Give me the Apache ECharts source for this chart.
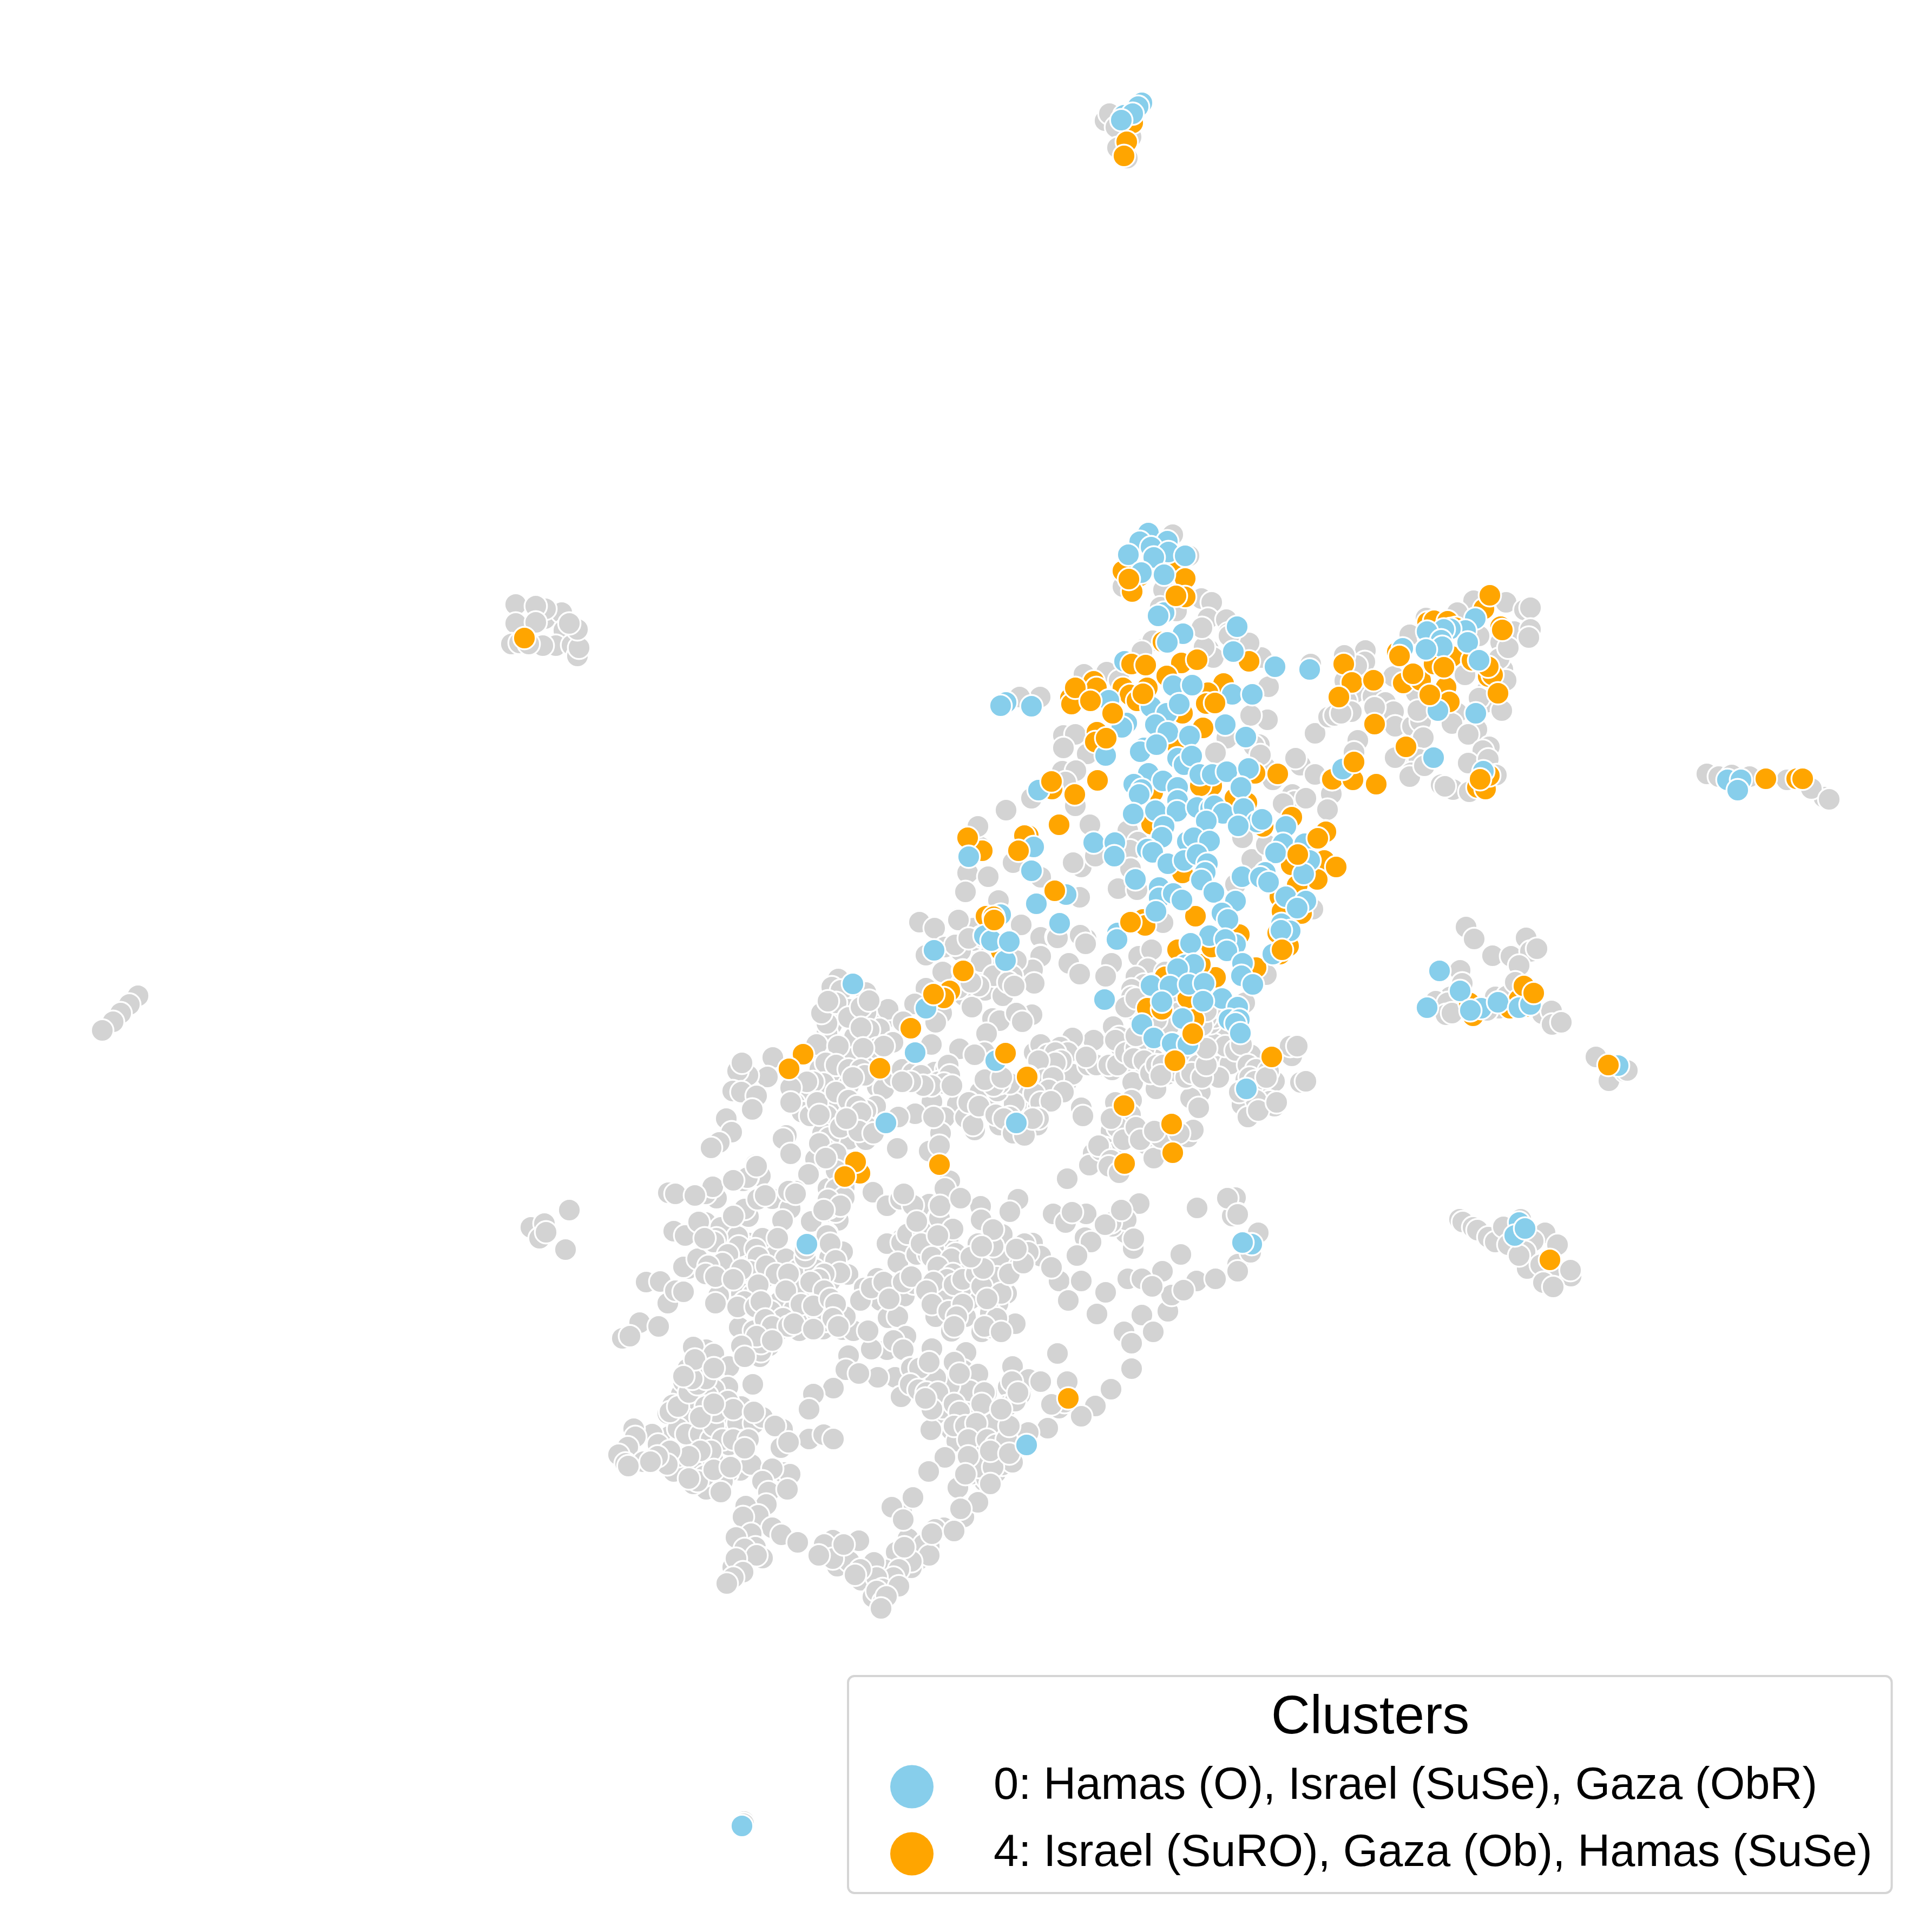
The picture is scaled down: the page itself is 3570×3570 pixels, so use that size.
<!DOCTYPE html>
<html><head><meta charset="utf-8">
<style>html,body{margin:0;padding:0;background:#fff}#c{width:3570px;height:3570px}</style>
<script src="https://cdn.jsdelivr.net/npm/echarts@6/dist/echarts.min.js"></script>
</head><body><div id="c"></div>
<script>
const legendTitle = "Clusters";
const label0 = "0: Hamas (O), Israel (SuSe), Gaza (ObR)";
const label4 = "4: Israel (SuRO), Gaza (Ob), Hamas (SuSe)";

const otherPts = [
[2055,213],[2042,223],[2050,210],[2062,235],[2090,253],[2065,273],[2083,292],
[953,1117],[1007,1143],[1038,1132],[1008,1125],[990,1120],[953,1152],[990,1150],[1042,1165],[1027,1193],[1057,1192],[1067,1212],[1070,1197],[1067,1163],[945,1190],[960,1188],[1003,1193],[977,1190],[1052,1152],
[255,1840],[239,1856],[223,1872],[209,1888],[189,1904],
[981,2268],[1006,2261],[1052,2236],[1045,2309],[997,2288],[1009,2277],[1375,3366],[1374,3370],
[3154,1430],[3176,1435],[3370,1473],[3347,1457],[3302,1441],[3233,1435],[3380,1477],[3200,1432],
[2709,1713],[2724,1735],[2758,1766],[2792,1767],[2820,1733],[2828,1758],[2840,1753],[2807,1784],[2698,1793],[2702,1817],[2680,1842],[2653,1850],[2675,1853],[2672,1875],[2683,1872],[2763,1842],[2785,1840],[2850,1873],[2867,1868],[2868,1893],[2885,1889],[2949,1953],[2973,1997],[3003,1980],[3007,1978],[2770,1863],[2800,1815],[2748,1867],
[2697,2253],[2703,2258],[2722,2268],[2730,2273],[2750,2286],[2763,2295],[2778,2267],[2810,2253],[2855,2278],[2833,2293],[2818,2313],[2878,2300],[2787,2300],[2822,2344],[2847,2337],[2877,2355],[2903,2358],[2902,2347],[2852,2370],[2870,2378],[2807,2320],
[2783,1113],[2723,1110],[2817,1127],[2828,1123],[2798,1167],[2828,1163],[2825,1178],[2773,1187],[2693,1132],[2635,1142],[2605,1173],[2733,1175],[2777,1237],[2770,1217],[2787,1197],[2783,1257],[2707,1247],[2747,1277],[2745,1298],[2775,1313],[2733,1290],[2692,1317],[2683,1337],[2729,1348],[2713,1357],[2752,1380],[2740,1387],[2713,1410],[2750,1403],[2765,1432],[2685,1459],[2663,1450],[2670,1453],[2715,1463],[2523,1202],[2483,1210],[2522,1223],[2507,1230],[2575,1250],[2485,1258],[2503,1280],[2537,1287],[2488,1295],[2497,1315],[2473,1317],[2560,1298],[2575,1315],[2540,1307],[2455,1327],[2578,1342],[2610,1342],[2625,1333],[2623,1373],[2630,1363],[2509,1368],[2502,1390],[2592,1400],[2578,1400],[2622,1403],[2608,1428],[2605,1435],[2632,1415],[2455,1497],[2460,1467],[2617,1280],[2620,1313],
[2073,1058],[2075,1084],[2197,1027],[2167,988],[2150,1090],[2220,1106],[2239,1113],[2144,1122],[2232,1143],[2266,1145],[2174,1129],[2308,1186],[2224,1196],[2270,1170],[2132,1183],[2113,1199],[1922,1288],[1884,1288],
[1965,1359],[1987,1357],[1965,1382],[2009,1393],[1963,1425],[1988,1424],[1969,1445],[1987,1489],[2014,1524],[1906,1475],[1859,1497],[1922,1460],[1984,1594],[1998,1602],[2024,1582],[1992,1659],[2066,1642],[2101,1644],[2084,1535],[2103,1556],[2088,1571],[2089,1605],[2296,1548],[2313,1588],[2340,1561],[2338,1418],[2403,1414],[2394,1401],[2430,1431],[2430,1355],[2455,1325],[2388,1468],[2392,1481],[2413,1475],[2371,1485],[2453,1496],[2352,1441],[2342,1330],[2311,1322],[2327,1376],[2317,1378],[2329,1395],[2267,1364],[2246,1391],[2331,1215],[2344,1269],[2308,1188],[2233,1200],[2242,1215],[2225,1196],[2221,1160],[2271,1175],[2130,1184],[2110,1204],[2045,1242],[2068,1257],[2003,1246],[2422,1227],[2466,1322],[2478,1318],[2484,1211],[2283,1634],[2426,1680],[2149,1705],[2007,1735],[1996,1728],[1923,1732],[1952,1732],[1923,1621],
[1788,1613],[1826,1620],[1784,1648],[1811,1565],[1807,1527],[1872,1594],[1983,1594],[1995,1658],[1845,1664],[1770,1697],[1727,1715],[1799,1715],[1887,1709],[1819,1757],[1922,1766],[1903,1805],[1975,1779],[1995,1798],[2006,1744],[1952,1731],[1887,1887],[1907,1875],[1845,1884],[1853,1840],[1807,1836],[1780,1840],[1742,1795],
[1923,1767],[1954,1733],[2006,1744],[1975,1780],[1995,1800],[1908,1792],[1911,1817],[2054,1780],[2043,1804],[2104,1767],[2128,1755],[2121,1790],[2099,1805],[2114,1819],[2091,1828],[2110,1855],[2093,1865],[2057,1897],[2068,1916],[2070,1933],[2086,1947],[2021,1922],[1982,1918],[1959,1935],[1973,1945],[1936,1972],[1911,1945],[2021,1964],[2038,1970],[2055,1977],[1971,1999],[1982,1985],[1957,2021],[1931,2016],[1998,2047],[2001,2062],[1904,2050],[1919,2046],[1904,2081],[1917,2079],[2092,1984],[2093,2000],[2136,2012],[2125,1935],[2157,1985],[2171,1979],[2218,2018],[2200,2029],[2215,2047],[2191,1991],[2233,1987],[2246,1967],[2273,1966],[2252,1991],[2311,1949],[2279,1914],[2256,1905],[2225,1914],[2300,1853],[2340,1801],[2218,1941],[2133,1958],[2114,1937],[2387,1951],[2384,1933],[2397,1933],[2403,2000],[2413,1998],[2355,1998],[2332,1998],[2302,1995],[2346,2035],[2355,2044],[2295,2041],[2306,2064],[2332,1979],[2061,2037],[2091,2033],[2088,2079],[2068,2091],[2053,2090],[2089,2060],[2118,2114],[2139,2109],[2126,2094],[2195,2101],[2205,2088],[2132,2140],[2088,2102],[2020,2131],[2013,2153],[2042,2121],[2057,2132],[2064,2161],[1972,2178],[2105,2224],[2083,2252],[2054,2266],[1982,2240],[1955,2248],[2007,2243],[1946,2243],[1969,2259],[2015,2289],[2005,2287],[2080,2278],[1908,2297],[2213,2233],[2267,2214],[2283,2213],[2287,2243],[2277,2247],[2327,2278],
[1699,1704],[1727,1715],[1771,1700],[1746,1750],[1711,1765],[1742,1796],[1788,1757],[1820,1759],[1798,1738],[1840,1777],[1878,1775],[1813,1801],[1851,1798],[1711,1826],[1782,1840],[1820,1830],[1853,1840],[1796,1861],[1690,1855],[1740,1872],[1729,1889],[1834,1882],[1847,1886],[1886,1884],[1823,1910],[1773,1938],[1819,1945],[1801,1949],[1721,1930],[1639,1880],[1641,1865],[1625,1901],[1669,1888],[1650,1926],[1579,1916],[1535,1937],[1572,1956],[1604,1955],[1515,1976],[1428,1954],[1418,1990],[1382,1987],[1363,1979],[1371,1964],[1354,2016],[1370,2018],[1398,2025],[1390,2050],[1484,2014],[1468,2039],[1482,2055],[1497,2062],[1544,2005],[1568,2006],[1556,2021],[1533,2039],[1528,2062],[1621,2008],[1633,2012],[1652,1989],[1667,1976],[1687,1983],[1727,1981],[1748,1976],[1702,1987],[1734,1999],[1722,2036],[1769,2041],[1745,2065],[1784,2065],[1801,2088],[1691,2058],[1660,2064],[1738,2094],[1717,2127],[1736,2117],[1618,2044],[1600,2052],[1572,2079],[1602,2083],[1569,2105],[1600,2106],[1520,2094],[1532,2102],[1533,2129],[1524,2123],[1507,2142],[1494,2170],[1530,2196],[1658,2122],[1613,2202],[1639,2228],[1664,2217],[1671,2207],[1687,2226],[1717,2225],[1737,2227],[1734,2251],[1757,2270],[1775,2214],[1755,2182],[1746,2196],[1813,2230],[1813,2255],[1864,2240],[1880,2219],[1851,2278],[1832,2289],[1667,2289],[1639,2297],[1698,2282],[1721,2278],[1752,2289],[1887,2012],[1874,2039],[1847,2079],[1822,2035],[1811,2018],[1843,2016],[1544,2239],[1549,2255],[1501,2259],[1528,2280],[1453,2098],[1447,2104],[1461,2132],[1342,2067],[1352,2092],[1329,2111],[1314,2121],[1396,2152],[1405,2173],[1382,2175],[1373,2182],[1317,2197],[1325,2213],[1427,2215],[1470,2201],[1461,2232],[1445,2255],[1375,2236],[1383,2248],[1333,2269],[1363,2278],[1409,2286],[1336,2297],[1384,2297],[1304,2259],[1549,1809],[1537,1824],[1600,1834],[1554,1830],[1537,1862],[1528,1874],[1537,1893],[1528,1910],[1600,1871],[1568,1865],
[1235,2204],[1248,2206],[1245,2275],[1266,2283],[1291,2258],[1324,2214],[1304,2206],[1317,2193],[1284,2209],[1194,2369],[1220,2368],[1234,2408],[1248,2385],[1263,2387],[1272,2344],[1263,2341],[1289,2326],[1182,2444],[1217,2451],[1150,2473],[1164,2469],[1327,2345],[1345,2369],[1328,2394],[1322,2408],[1370,2327],[1337,2303],[1386,2306],[1332,2268],[1363,2285],[1409,2288],[1383,2248],[1376,2234],[1427,2215],[1460,2233],[1446,2255],[1381,2176],[1398,2155],[1400,2216],[1370,2390],[1391,2392],[1414,2360],[1432,2321],[1452,2326],[1475,2346],[1475,2380],[1488,2394],[1441,2405],[1424,2423],[1467,2420],[1495,2446],[1509,2423],[1366,2453],[1393,2459],[1411,2469],[1439,2458],[1477,2459],[1521,2456],[1526,2441],[1557,2457],[1577,2459],[1562,2433],[1383,2502],[1404,2507],[1421,2487],[1391,2558],[1499,2257],[1528,2283],[1544,2239],[1531,2232],[1557,2313],[1533,2324],[1539,2350],[1567,2355],[1518,2369],[1506,2346],[1534,2367],[1493,2394],[1512,2405],[1470,2380],[1613,2203],[1639,2228],[1664,2216],[1687,2227],[1670,2206],[1639,2298],[1666,2296],[1659,2333],[1697,2283],[1677,2280],[1707,2278],[1694,2257],[1725,2308],[1736,2251],[1737,2228],[1761,2271],[1812,2257],[1812,2229],[1775,2214],[1850,2280],[1865,2239],[1881,2216],[1766,2316],[1807,2298],[1870,2322],[1898,2321],[1893,2298],[1845,2323],[1824,2326],[1621,2362],[1597,2380],[1657,2385],[1627,2403],[1590,2403],[1671,2395],[1689,2372],[1711,2386],[1641,2435],[1659,2433],[1747,2343],[1788,2340],[1778,2379],[1748,2398],[1730,2395],[1730,2434],[1758,2459],[1784,2433],[1794,2400],[1814,2362],[1844,2408],[1860,2390],[1833,2452],[1814,2461],[1876,2445],[1845,2357],[1860,2357],[1743,2420],[1721,2492],[1784,2498],[1870,2525],[1804,2540],[1776,2528],[1730,2545],[1754,2558],[1791,2572],[1824,2573],[1863,2563],[1886,2548],[1888,2576],[1860,2598],[1835,2604],[1846,2633],[1791,2604],[1741,2602],[1711,2586],[1733,2632],[1758,2642],[1720,2642],[1768,2663],[1796,2653],[1802,2691],[1745,2693],[1715,2719],[1850,2665],[1853,2704],[1872,2700],[1840,2721],[1819,2737],[1794,2724],[1768,2751],[1806,2775],[1776,2788],[1781,2803],[1744,2823],[1728,2826],[1717,2857],[1697,2882],[1656,2868],[1678,2843],[1684,2897],[1636,2901],[1615,2887],[1591,2920],[1613,2951],[1648,2923],[1666,2792],[1648,2785],[1687,2767],[1669,2808],[1587,2847],[1539,2846],[1524,2864],[1547,2894],[1569,2885],[1521,2874],
[1639,2494],[1610,2493],[1674,2469],[1651,2477],[1604,2459],[1669,2494],[1682,2528],[1654,2545],[1622,2545],[1665,2581],[1682,2568],[1568,2505],[1563,2531],[1587,2538],[1540,2565],[1503,2576],[1495,2604],[1495,2659],[1522,2651],[1540,2659],
[1305,2494],[1281,2489],[1319,2502],[1271,2529],[1347,2525],[1317,2544],[1345,2563],[1319,2568],[1259,2576],[1307,2579],[1263,2553],[1243,2596],[1234,2612],[1330,2602],[1284,2594],[1263,2620],[1296,2635],[1337,2635],[1363,2630],[1393,2630],[1370,2599],[1409,2619],[1446,2641],[1432,2635],[1347,2670],[1370,2663],[1443,2675],[1457,2665],[1237,2654],[1205,2650],[1216,2669],[1171,2640],[1174,2655],[1160,2674],[1143,2688],[1156,2704],[1189,2701],[1161,2709],[1245,2719],[1253,2673],[1279,2674],[1279,2655],[1248,2691],[1286,2706],[1317,2697],[1304,2660],[1368,2717],[1388,2706],[1345,2721],[1335,2737],[1305,2752],[1281,2742],[1332,2757],[1448,2721],[1460,2724],[1427,2714],[1409,2737],[1420,2757],[1455,2752],[1416,2780],[1378,2783],[1401,2800],[1373,2803],[1427,2823],[1444,2836],[1474,2850],[1388,2834],[1360,2841],[1396,2859],[1376,2862],[1409,2879],[1398,2874],[1354,2896],[1360,2880],[1373,2905],[1346,2923],[1355,2915],
[1981,2240],[2105,2224],[2055,2266],[2081,2254],[2016,2295],[1990,2320],[2094,2307],[2212,2232],[2268,2214],[2287,2244],[2182,2318],[2325,2278],[2287,2336],[2311,2314],[2148,2349],[2084,2363],[1957,2367],[1998,2367],[1974,2403],[2027,2428],[2043,2388],[2110,2430],[2131,2461],[2077,2461],[2158,2423],[2165,2393],[2211,2367],[2246,2363],[2187,2384],[2287,2349],[2091,2482],[2091,2529],[2053,2567],[2024,2598],[1998,2617],[1954,2501],[1936,2639],[1972,2553],[1957,2602],[1923,2321],[1900,2314],[1871,2321],[1847,2321],[1852,2281],[1866,2239],[1813,2254],[1943,2342],[1844,2409],[1842,2360],[1876,2446],[1833,2454],[1777,2379],[1746,2398],[1789,2342],[1748,2344],[1729,2433],[1758,2460],[1722,2492],[1785,2499],[1780,2532],[1807,2539],[1871,2525],[1901,2549],[1923,2553],[1861,2598],[1885,2577],[1823,2574],[1792,2570],[1754,2560],[1729,2546],[1684,2528],[1665,2581],[1713,2588],[1742,2602],[1847,2633],[1837,2609],[1861,2668],[1852,2707],[1871,2702],[1900,2647],[1802,2689],[1823,2732],[1770,2749],[1746,2693],[1716,2719],[1807,2776],[1775,2788],[1967,2591],[1943,2595],[2110,2363],[2129,2377]
];

const otherPtsDense = [
[1355,2181],[1414,2209],[1457,2201],[1470,2206],[1355,2247],[1324,2288],[1319,2295],[1302,2288],[1365,2303],[1396,2308],[1437,2288],[1401,2323],[1345,2318],[1335,2334],[1309,2339],[1304,2354],[1322,2359],[1386,2349],[1370,2346],[1355,2364],[1416,2339],[1434,2354],[1401,2374],[1376,2405],[1363,2415],[1396,2415],[1406,2405],[1457,2354],[1452,2385],[1480,2410],[1447,2436],[1414,2438],[1427,2451],[1457,2451],[1467,2446],[1488,2323],[1488,2308],[1534,2298],[1544,2329],[1552,2352],[1523,2354],[1513,2364],[1498,2369],[1523,2385],[1503,2413],[1534,2400],[1544,2410],[1539,2436],[1549,2451],[1503,2456],[1406,2497],[1406,2482],[1398,2469],[1427,2477],[1370,2487],[1376,2507],
[1610,2380],[1633,2369],[1643,2400],[1669,2369],[1684,2359],[1694,2318],[1715,2318],[1702,2298],[1733,2283],[1722,2323],[1758,2326],[1733,2341],[1761,2354],[1750,2364],[1725,2369],[1712,2385],[1763,2374],[1779,2364],[1804,2354],[1814,2377],[1817,2344],[1794,2323],[1722,2410],[1753,2423],[1779,2410],[1768,2433],[1763,2451],[1850,2390],[1830,2426],[1842,2436],[1819,2451],[1850,2461],[1824,2400],[1865,2354],[1891,2334],[1878,2308],[1835,2303],[1835,2272],[1814,2303],
[1699,2528],[1717,2517],[1682,2558],[1697,2568],[1712,2573],[1733,2573],[1763,2517],[1773,2538],[1819,2573],[1814,2594],[1763,2594],[1773,2609],[1722,2604],[1710,2584],[1763,2635],[1784,2635],[1814,2635],[1835,2630],[1804,2630],[1789,2660],[1824,2660],[1840,2670],[1860,2660],[1865,2635],[1876,2589],[1870,2553],[1850,2604],[1881,2573],[1824,2696],[1809,2711],[1835,2711],[1789,2691],[1830,2681],[1865,2686],[1784,2724],[1830,2742],
[1677,2864],[1707,2854],[1717,2874],[1684,2885],[1671,2859],[1722,2834],[1763,2829],[1661,2900],[1651,2915],[1620,2915],[1631,2936],[1661,2931],[1590,2900],[1580,2910],[1523,2854],[1539,2880],[1559,2854],[1513,2874],[1620,2940],[1632,2960],[1638,2950],[1628,2972],[1343,2926],
[1253,2640],[1268,2650],[1294,2650],[1314,2660],[1319,2635],[1335,2660],[1355,2660],[1383,2660],[1376,2676],[1314,2681],[1294,2681],[1253,2691],[1273,2691],[1238,2681],[1233,2706],[1215,2691],[1202,2701],[1302,2727],[1289,2737],[1273,2732],[1319,2716],[1350,2711],[1238,2609],[1253,2599],[1273,2573],[1289,2558],[1304,2548],[1279,2548],[1284,2512],[1263,2543],[1319,2528],[1324,2609],[1304,2599],[1294,2619],[1345,2589],[1355,2604],[1319,2594],[1393,2609],
[1528,1891],[1518,1872],[1545,1853],[1568,1880],[1591,1861],[1606,1849],[1530,1850],[1606,1903],[1591,1899],[1621,1937],[1633,1933],[1595,1937],[1514,1937],[1509,1930],[1549,1933],[1526,1964],[1545,1968],[1568,1976],[1591,1976],[1598,1987],[1576,1991],[1522,2002],[1503,1999],[1491,1999],[1461,2010],[1461,2037],[1510,2037],[1514,2060],[1545,2018],[1568,2033],[1583,2044],[1591,2056],[1553,2083],[1587,2090],[1614,2094],[1564,2067],[1514,2113],[1545,2132],[1545,2163],[1526,2140],[1560,2194],[1545,2197],[1560,2213],[1530,2217],[1553,2228],[1522,2236],
[1752,1968],[1755,1987],[1744,2002],[1721,2006],[1706,2006],[1683,1999],[1667,1999],[1759,2006],[1725,2064],[1790,2037],[1798,2079],[1809,2044],[1840,2060],[1866,2064],[1855,2067],[1872,2094],[1893,2098],[1866,2002],[1847,2002],[1836,2006],[1820,1995],[1851,1991],
[1775,1757],[1765,1746],[1805,1788],[1813,1777],[1836,1803],[1870,1803],[1863,1815],[1874,1822],[1809,1822],[1771,1826],[1794,1815],[1878,1872],[1889,1888],[1813,1731],[1790,1734],
[1923,1930],[1936,1949],[1950,1945],[1961,1960],[1950,1964],[1919,1960],[1915,1999],[1929,1995],[1946,1991],[1938,2014],[1965,2018],[1911,2021],[1923,2037],[1942,2035],[1919,2067],[1908,2067],[2011,1968],[2026,1968],[2007,1953],[2049,1968],[2065,1968],[2061,1922],[2080,1945],[2099,1937],[2099,1914],[2095,1956],[2114,1960],[2126,1983],[2137,1968],[2149,1968],[2145,1987],[2183,1953],[2199,1953],[2214,1968],[2202,1983],[2221,1991],[2229,1968],[2244,1930],[2264,1933],[2229,1937],[2283,1941],[2294,1930],[2237,1891],[2244,1880],[2229,1880],[2221,1895],[2306,1968],[2321,1976],[2344,1979],[2309,1991],[2319,1998],[2340,1991],[2321,2033],[2325,2052],[2290,2018],[2359,2037],[2130,1819],[2153,1796],[2168,1853],[2176,1872],[2145,1887],[2160,1895],[2137,1884],[2241,1861],[2229,1868],[2091,1842],[2080,1861],[2099,1845],
[2065,2083],[2076,2106],[2099,2083],[2053,2067],[2107,2106],[2145,2102],[2133,2090],[2179,2094],[2034,2125],[2030,2117],[2053,2144],[2049,2155],[2068,2167],[2053,2259],[2042,2263],[2072,2236],[2095,2289]
];

const cluster4Under = [
[2093,227],[2021,1259],[2026,1271],[1978,1290],[1980,1301],[2183,1225],[2308,1222],[2149,1186],[2261,1263],[2156,1249],[2075,1271],[2088,1284],[2101,1295],[2120,1271],[2027,1353],[2024,1371],[2232,1280],[2229,1300],[2223,1345],[2185,1318],[2177,1382],[1944,1458],[2130,1464],[2319,1429],[2239,1452],[2218,1452],[2282,1475],[2304,1483],[2334,1527],[2128,1523],[2387,1510],[2449,1536],[2447,1590],[2386,1598],[2434,1625],[2397,1636],[2365,1657],[2405,1688],[2369,1684],[2361,1724],[2382,1745],[2209,1693],[2112,1699],[2285,1728],[1900,1544],[2461,1440],[2493,1437],[2185,1613],[2063,1734],[2381,1748],[2365,1763],[2321,1788],[2246,1806],[2218,1782],[2153,1805],[2176,1755],[2195,1844],[2120,1863],[2147,1865],[2206,1884],[2290,1727],[2239,1750],[2116,1710],
[2178,1036],[2190,1069],[2106,1064],[2075,1055],[2092,1093],[2190,1103],[1815,1572],[1893,1544],[1788,1548],[1822,1693],[1779,1793],[1755,1831],[1744,1844],[1850,1757],
[2742,1125],[2773,1158],[2638,1150],[2650,1147],[2675,1148],[2690,1160],[2640,1177],[2582,1205],[2607,1253],[2593,1262],[2625,1257],[2650,1227],[2683,1213],[2720,1220],[2750,1250],[2758,1247],[2750,1232],[2672,1270],[2678,1297],[2462,1440],[2500,1441],[2730,1455],[2745,1458],[2752,1433],[2450,1537],
[2715,1853],[2722,1877],[2790,1863],[2820,1860],[2807,1847],[2816,1822],[1589,2168]
];

const cluster4Top = [
[2082,262],[2077,288],[969,1179],[3263,1439],[3320,1439],[3331,1439],[2864,2328],[2972,1968],[2834,1835],
[1987,1271],[2015,1295],[2091,1227],[2117,1229],[2212,1219],[2112,1282],[2245,1299],[2056,1318],[2044,1364],[1943,1444],[1986,1468],[2028,1442],[1957,1524],[2361,1430],[2435,1549],[2398,1579],[2469,1602],[1949,1646],[2089,1704],[2369,1755],
[2086,1070],[2173,1101],[1882,1572],[1836,1694],[1725,1837],
[2753,1100],[2776,1164],[2586,1212],[2483,1227],[2498,1261],[2538,1257],[2474,1288],[2611,1245],[2668,1233],[2768,1281],[2642,1284],[2540,1338],[2598,1380],[2543,1449],[2735,1440],[2502,1408],
[2171,1960],[2350,1953],[2077,2043],[2165,2077],[2167,2130],[2078,2150],[2204,1910],[1900,1989],
[1837,1700],[1780,1794],[1683,1900],[1484,1948],[1458,1975],[1626,1974],[1858,1946],[1898,1990],[1581,2147],[1561,2174],[1736,2152],[1974,2584]
];

const cluster0 = [
[2077,213],[2110,190],[2103,197],[2093,210],[2072,222],
[3192,1441],[3217,1441],[3211,1460],[1371,3374],
[2660,1794],[2698,1831],[2637,1862],[2737,1863],[2768,1852],[2807,1862],[2717,1867],[2990,1969],[2828,1856],
[2807,2259],[2799,2283],[2818,2270],
[2122,985],[2106,1001],[2157,1000],[2085,1025],[2127,1011],[2159,1020],[2132,1030],[2190,1027],[2151,1062],[2109,1058],[2151,1132],[2140,1138],
[2186,1171],[2157,1187],[2286,1158],[2279,1204],[2356,1232],[2420,1237],[2078,1222],[2168,1267],[2203,1266],[2277,1283],[2314,1283],[2049,1294],[2127,1306],[2156,1318],[2179,1301],[2135,1339],[2158,1353],[2198,1360],[2264,1339],[2302,1362],[2082,1336],[2073,1344],[2114,1382],[2107,1389],[2043,1396],[2137,1376],[2176,1401],[2188,1413],[2202,1397],[2122,1429],[2149,1443],[2217,1431],[2240,1431],[2267,1426],[2307,1420],[2293,1455],[2481,1421],[2095,1449],[2110,1459],[2105,1468],[2176,1455],[2176,1479],[2094,1504],[2135,1498],[2175,1499],[2212,1492],[2237,1494],[2244,1489],[2260,1503],[2298,1494],[2323,1519],[2332,1514],[2288,1526],[2229,1517],[2376,1527],[2151,1527],[2147,1547],[2194,1555],[2206,1548],[2235,1554],[2021,1557],[2060,1557],[2059,1582],[2120,1569],[2130,1575],[2158,1596],[2188,1590],[2212,1579],[2231,1596],[2227,1612],[2220,1626],[2371,1559],[2357,1576],[2411,1559],[2420,1590],[2409,1615],[2338,1612],[2295,1620],[2329,1621],[2344,1630],[2098,1625],[2142,1640],[2142,1659],[2168,1651],[2184,1663],[2243,1649],[2283,1665],[2258,1687],[2269,1699],[2376,1657],[2413,1665],[2397,1678],[2368,1707],[2384,1720],[2136,1684],[1958,1706],[2065,1724],[2235,1729],[2200,1743],[2267,1743],[2283,1745],[1915,1670],[1906,1609],[1970,1653],[1910,1565],[1906,1305],[1919,1460],
[2064,1736],[2264,1736],[2267,1757],[2296,1780],[2294,1803],[2315,1819],[2190,1783],[2206,1782],[2176,1790],[2127,1821],[2162,1822],[2197,1819],[2225,1817],[2258,1845],[2147,1851],[2223,1850],[2287,1861],[2041,1847],[2185,1882],[2271,1884],[2290,1884],[2283,1891],[2292,1909],[2110,1893],[2132,1918],[2166,1928],[2195,1930],[2303,2012],[2313,2299],[2296,2296],[2352,1763],[2367,1719],
[1576,1818],[1726,1756],[1711,1863],[1691,1945],[1637,2075],[1840,1960],[1878,2075],[1833,1738],[1863,1740],[1858,1775],[1819,1729],[1491,2299],
[1859,1298],[1849,1304],[1790,1583],[1849,1690],[1832,1738],[1865,1740],
[2726,1143],[2708,1165],[2680,1162],[2668,1163],[2637,1167],[2663,1183],[2665,1195],[2712,1187],[2635,1200],[2592,1198],[2733,1220],[2657,1313],[2727,1318],[2649,1400],[2741,1425],
[1897,2670]
];

const pointStyle = { borderColor: '#ffffff', borderWidth: 3.3, opacity: 1 };
function scatter(name, data, color) {
  return { name, type: 'scatter', data, symbol: 'circle', symbolSize: 41.5, clip: false, animation: false,
    itemStyle: Object.assign({ color }, pointStyle), emphasis: { disabled: true }, silent: true };
}

const chart = echarts.init(document.getElementById('c'), null, { renderer: 'canvas' });
chart.setOption({
  backgroundColor: '#ffffff',
  animation: false,
  grid: { left: 0, right: 0, top: 0, bottom: 0 },
  xAxis: { type: 'value', min: 0, max: 3570, show: false },
  yAxis: { type: 'value', min: 0, max: 3570, inverse: true, show: false },
  title: { text: legendTitle, left: 2527, top: 3120, textAlign: 'center',
    textStyle: { fontFamily: 'Liberation Sans', fontSize: 100, fontWeight: 'normal', color: '#000' } },
  legend: {
    data: [label0, label4], orient: 'vertical', left: 1567, top: 3097,
    padding: [163, 36, 31, 78], itemWidth: 80, itemHeight: 80, itemGap: 41, icon: 'circle',
    itemStyle: { borderWidth: 0 }, selectedMode: false,
    backgroundColor: '#ffffff', borderColor: '#d5d5d5', borderWidth: 4, borderRadius: 12,
    textStyle: { fontFamily: 'Liberation Sans', fontSize: 83, color: '#000', padding: [0, 0, 0, 106] }
  },
  series: [
    scatter('other', otherPts.concat(otherPtsDense), '#D3D3D3'),
    scatter(label4, cluster4Under, '#FFA500'),
    scatter(label0, cluster0, '#87CEEB'),
    scatter('4-front', cluster4Top, '#FFA500')
  ]
});
</script></body></html>
